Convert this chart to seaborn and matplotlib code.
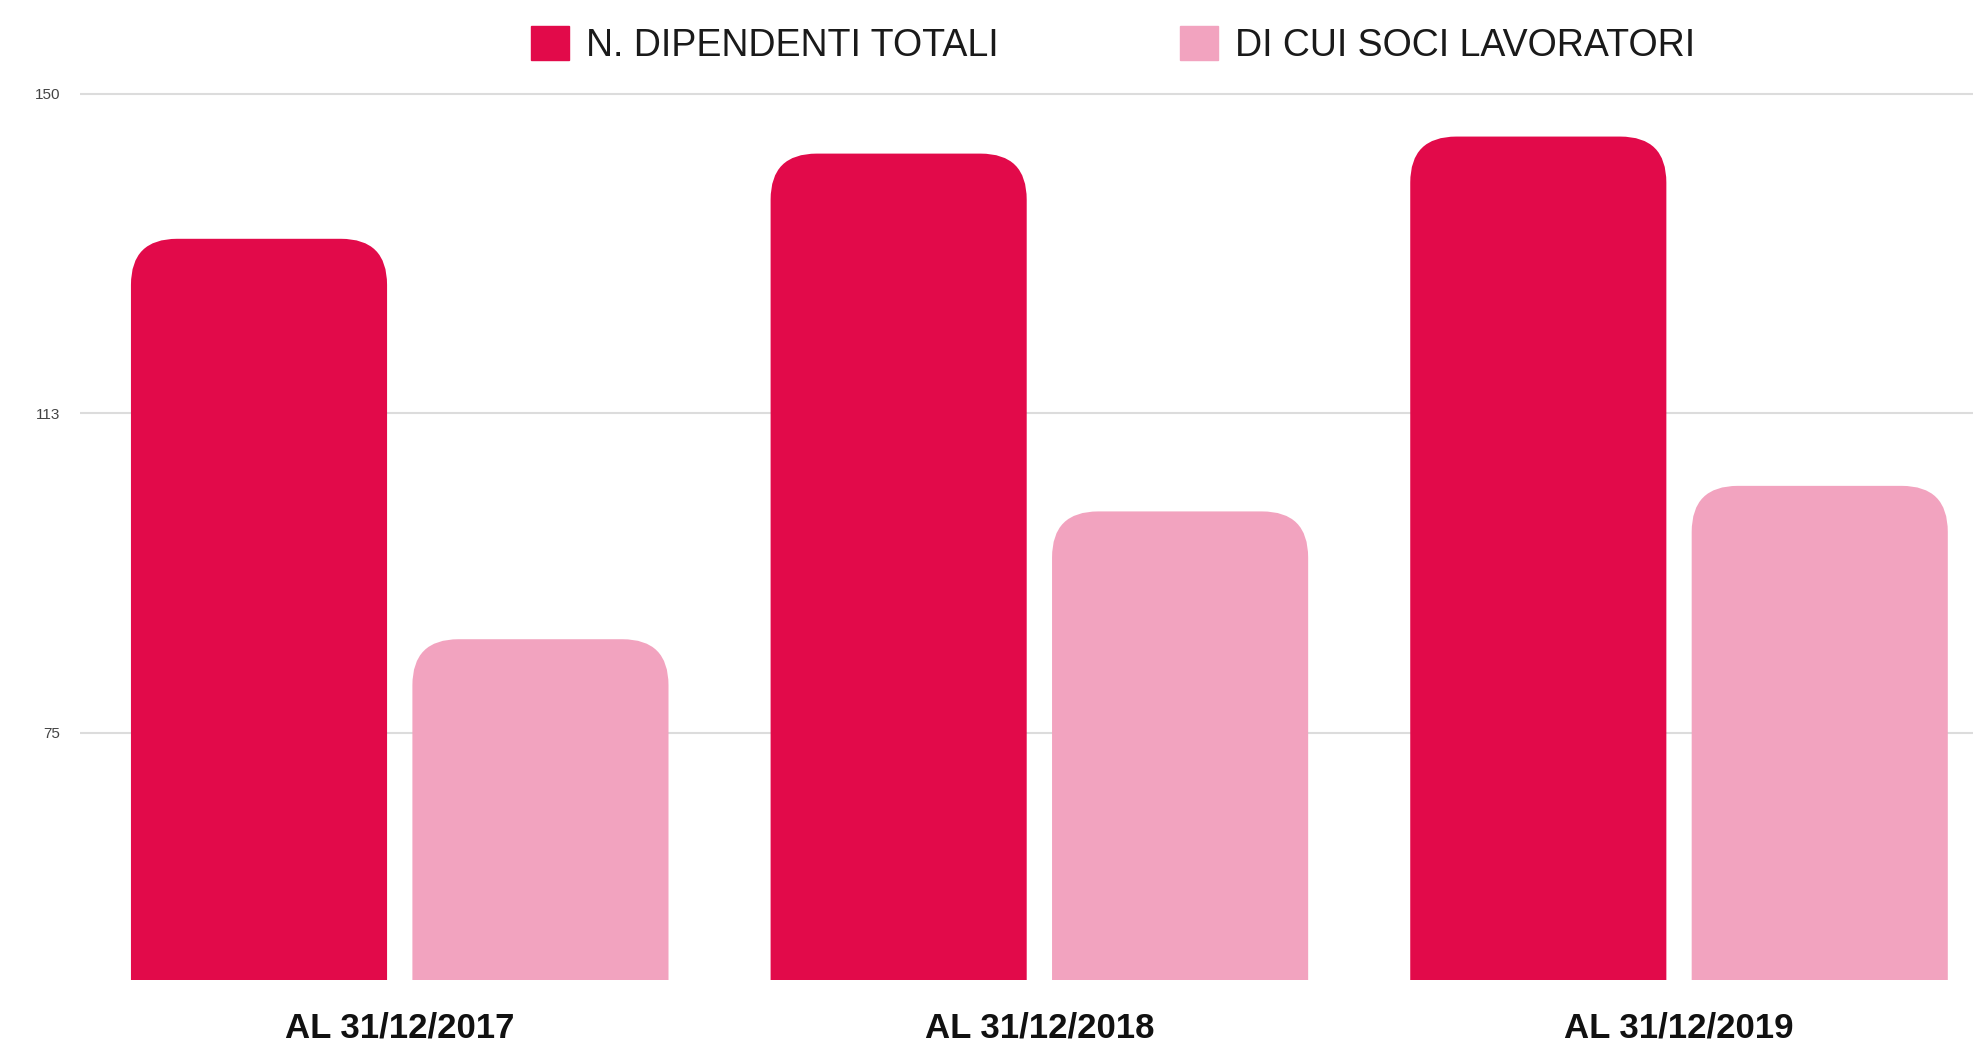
import numpy as np
import pandas as pd
import matplotlib
matplotlib.use('Agg')
import matplotlib.pyplot as plt
import seaborn as sns
from matplotlib.patches import FancyBboxPatch, Patch

# values
dates = ['AL 31/12/2017', 'AL 31/12/2018', 'AL 31/12/2019']
series = ['N. DIPENDENTI TOTALI', 'DI CUI SOCI LAVORATORI']
totali = [133, 143, 145]
soci = [86, 101, 104]
colors = ['#E20A4A', '#F2A3BF']
yticks = [75, 112.5, 150]
ytick_labels = ['75', '113', '150']

df = pd.DataFrame({
    'data': dates * 2,
    'serie': [series[0]] * 3 + [series[1]] * 3,
    'valore': totali + soci,
})

sns.set_style('white')
plt.rcParams['font.family'] = ['Liberation Sans Narrow', 'Liberation Sans', 'DejaVu Sans']

fig = plt.figure(figsize=(19.73, 10.42), dpi=100)
# the reference is a cropped screenshot: axis starts near 46 and runs off the right edge
ax = fig.add_axes([0.0405, 0.0595, 0.9726, 0.8585])
sns.barplot(data=df, x='data', y='valore', hue='serie', palette=colors,
            width=0.88, gap=0.09, saturation=1, legend=False, ax=ax)

'''rounded bar tops'''
for bar in list(ax.patches):
    fb = FancyBboxPatch((bar.get_x(), bar.get_y()), bar.get_width(), bar.get_height(),
                        boxstyle='round,pad=0,rounding_size=0.072', mutation_aspect=75,
                        fc=bar.get_facecolor(), ec='none', zorder=2)
    bar.remove()
    ax.add_patch(fb)

ax.set_xlim(-0.5, 2.5)
ax.set_ylim(46, 151)
ax.set_yticks(yticks, ytick_labels)
ax.grid(axis='y', color='#dcdcdc', lw=1.5)
ax.set_axisbelow(True)
sns.despine(ax=ax, left=True, bottom=True)
ax.set_xlabel('')
ax.set_ylabel('')

ax.tick_params(axis='y', length=0, pad=14, labelsize=11, labelcolor='#444')
ax.tick_params(axis='x', length=0, pad=23, labelsize=25, labelcolor='#111')
for lab in ax.get_yticklabels():
    lab.set_family(['Liberation Sans', 'DejaVu Sans'])
for lab in ax.get_xticklabels():
    lab.set_fontweight('bold')

handles = [Patch(color=c, label=s) for c, s in zip(colors, series)]
leg = fig.legend(handles=handles, loc='center', bbox_to_anchor=(1113 / 1973, 1 - 45 / 1042),
                 ncol=2, frameon=False, fontsize=27, handlelength=1.0, handleheight=1.0,
                 handletextpad=0.45, columnspacing=4.85)
for t in leg.get_texts():
    t.set_color('#1a1a1a')

fig.savefig('out.png', dpi=100)
